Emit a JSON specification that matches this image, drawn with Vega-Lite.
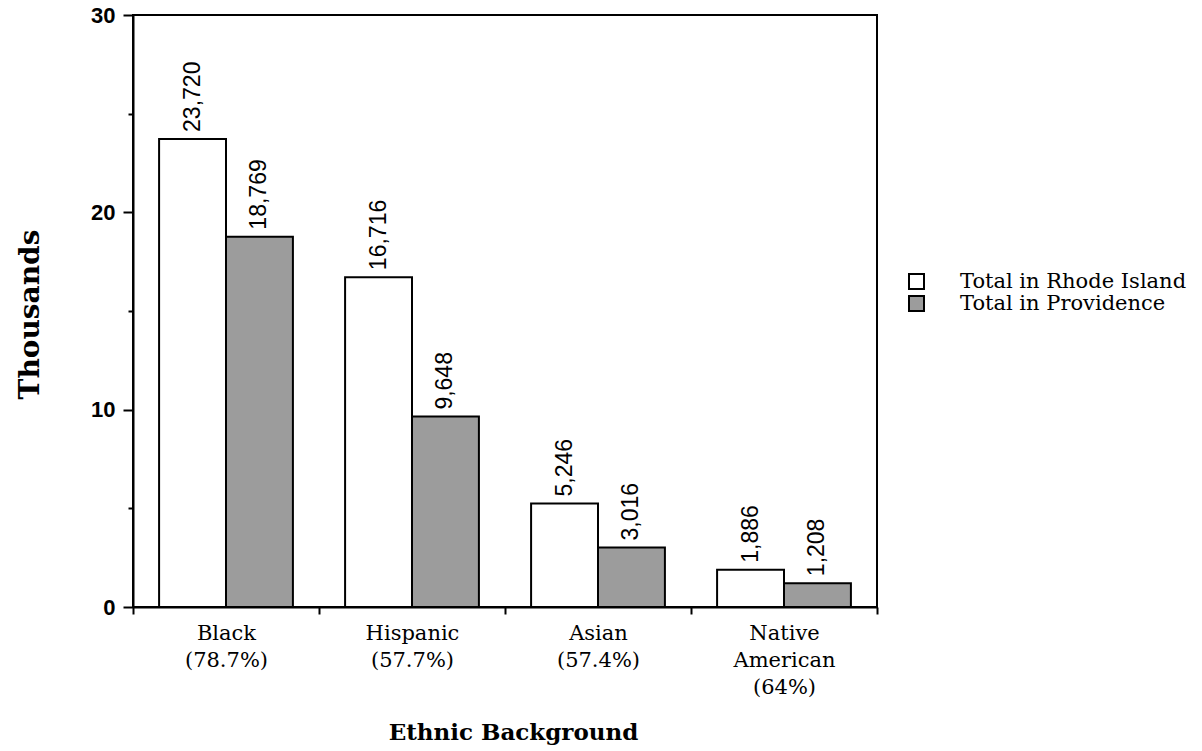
{
  "$schema": "https://vega.github.io/schema/vega-lite/v6.json",
  "width": 744,
  "height": 592,
  "autosize": "none",
  "padding": {"left": 133, "top": 15, "right": 325, "bottom": 144},
  "background": "white",
  "config": {"view": {"stroke": "black", "strokeWidth": 2}},
  "data": {
    "values": [
      {"group": "Black", "series": "Total in Rhode Island", "value": 23.72, "label": "23,720"},
      {"group": "Black", "series": "Total in Providence", "value": 18.769, "label": "18,769"},
      {"group": "Hispanic", "series": "Total in Rhode Island", "value": 16.716, "label": "16,716"},
      {"group": "Hispanic", "series": "Total in Providence", "value": 9.648, "label": "9,648"},
      {"group": "Asian", "series": "Total in Rhode Island", "value": 5.246, "label": "5,246"},
      {"group": "Asian", "series": "Total in Providence", "value": 3.016, "label": "3,016"},
      {"group": "Native American", "series": "Total in Rhode Island", "value": 1.886, "label": "1,886"},
      {"group": "Native American", "series": "Total in Providence", "value": 1.208, "label": "1,208"}
    ]
  },
  "encoding": {
    "x": {
      "field": "group",
      "type": "nominal",
      "sort": ["Black", "Hispanic", "Asian", "Native American"],
      "scale": {"paddingInner": 0, "paddingOuter": 0},
      "axis": {
        "title": "Ethnic Background",
        "titleFont": "DejaVu Serif",
        "titleFontWeight": "bold",
        "titleFontSize": 23,
        "titleColor": "black",
        "titleX": 380,
        "titleY": 132,
        "titleBaseline": "alphabetic",
        "labelAngle": 0,
        "labelFont": "DejaVu Serif",
        "labelFontSize": 21,
        "labelColor": "black",
        "labelLineHeight": 27,
        "labelPadding": 8,
        "labelBaseline": "top",
        "labelExpr": "datum.value == 'Black' ? ['Black', '(78.7%)'] : datum.value == 'Hispanic' ? ['Hispanic', '(57.7%)'] : datum.value == 'Asian' ? ['Asian', '(57.4%)'] : datum.value == 'Native American' ? ['Native', 'American', '(64%)'] : ''",
        "tickBand": "extent",
        "tickSize": 7,
        "tickWidth": 2,
        "tickColor": "black",
        "domainColor": "black",
        "domainWidth": 2
      }
    },
    "xOffset": {
      "field": "series",
      "sort": ["Total in Rhode Island", "Total in Providence"],
      "scale": {"paddingInner": 0, "paddingOuter": 0.39}
    },
    "y": {
      "field": "value",
      "type": "quantitative",
      "scale": {"domain": [0, 30]},
      "axis": {
        "title": "Thousands",
        "titleFont": "DejaVu Serif",
        "titleFontWeight": "bold",
        "titleFontSize": 28,
        "titleColor": "black",
        "titleX": -103,
        "titleY": 299,
        "titleAlign": "center",
        "titleBaseline": "middle",
        "values": [0, 5, 10, 15, 20, 25, 30],
        "labelExpr": "datum.value % 10 == 0 ? datum.label : ''",
        "labelFont": "Liberation Sans",
        "labelFontWeight": "bold",
        "labelFontSize": 22,
        "labelColor": "black",
        "labelPadding": 8,
        "grid": false,
        "tickSize": {"condition": {"test": "datum.value % 10 == 0", "value": 10}, "value": 5},
        "tickWidth": 2,
        "tickColor": "black",
        "domainColor": "black",
        "domainWidth": 2
      }
    }
  },
  "layer": [
    {
      "mark": {"type": "bar", "stroke": "black", "strokeWidth": 2},
      "encoding": {
        "fill": {
          "field": "series",
          "type": "nominal",
          "scale": {"domain": ["Total in Rhode Island", "Total in Providence"], "range": ["white", "#9c9c9c"]},
          "legend": {
            "title": null,
            "orient": "none",
            "legendX": 773,
            "legendY": 256,
            "symbolType": "square",
            "symbolSize": 225,
            "symbolStrokeColor": "black",
            "symbolStrokeWidth": 2,
            "labelFont": "DejaVu Serif",
            "labelFontSize": 21,
            "labelColor": "black",
            "labelOffset": 33,
            "rowPadding": -3,
            "labelLimit": 400
          }
        }
      }
    },
    {
      "mark": {"type": "text", "angle": 270, "align": "left", "baseline": "middle", "dx": 7, "font": "Liberation Sans", "fontSize": 23, "color": "black"},
      "encoding": {"text": {"field": "label"}}
    }
  ]
}
